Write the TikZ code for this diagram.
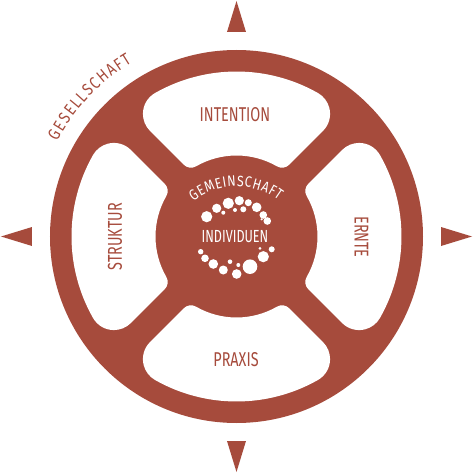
\documentclass[tikz,border=0pt]{standalone}
\usepackage{fontspec}
\setmainfont{Fira Sans}[FakeStretch=0.72]
\newfontfamily\arcfont{Fira Sans}[FakeStretch=0.82]
\usetikzlibrary{decorations.text}
\definecolor{wheel}{RGB}{166,75,60}
\tikzstyle{none}=[]
\tikzstyle{label}=[text=wheel, inner sep=0pt, font=\fontsize{20}{20}\selectfont]
\tikzstyle{hublabel}=[text=white, inner sep=0pt, font=\fontsize{17.5}{17.5}\selectfont]
\tikzstyle{dot}=[fill=white]

\begin{document}
\begin{tikzpicture}[x=1pt, y=1pt]
        \useasboundingbox (-236.5,-237.5) rectangle (237.5,236.5);
        \fill [wheel] (0,0) circle (186.5);
        \foreach \a in {0,90,180,270} {
                \fill [white, rotate=\a] (60.43:165) arc [start angle=60.43, end angle=119.57, radius=165]
                        arc [start angle=119.57, end angle=225, radius=24]
                        -- (-52.61,71.71)
                        arc [start angle=225, end angle=300.03, radius=10]
                        arc [start angle=120.03, end angle=59.97, radius=81]
                        arc [start angle=239.97, end angle=315, radius=10]
                        -- (86.56,105.66)
                        arc [start angle=-45, end angle=60.43, radius=24]
                        -- cycle;
                \fill [wheel, rotate=\a] (-9.5,204.5) -- (0,235.5) -- (9.5,204.5) -- cycle;
        }
        \foreach \x/\y/\r in {-29.8/19.8/5.6, -19.8/28.2/4.6, -8.2/33.2/5.6, 2.8/35.8/4.6, 11.8/33.8/3.5,
                20.2/29.2/4.8, 26.8/21.5/3.8, 30.8/15.5/3.8, -13.2/23.8/2, -1.5/26.5/2,
                6.8/27.2/3, 25.2/17.2/1.2, -35.8/-15.2/2.7, -31.5/-21.8/3.8, -23.2/-27.5/4.8,
                -13.2/-33.5/4.5, 0.2/-37.5/4.8, 13.5/-30.2/7.3, 26.8/-20.2/5.6, 35.2/-12.8/3,
                -6.5/-25.2/2.3, 1.8/-28.5/2, 23.5/-11.8/1.5}
                \fill [dot] (\x,\y) circle (\r);
        \node [style=label] (intention) at (-1.5,122) {INTENTION};
        \node [style=label, rotate=90] (struktur) at (-121.5,0) {STRUKTUR};
        \node [style=label, rotate=-90] (ernte) at (125,-0.5) {ERNTE};
        \node [style=label] (praxis) at (-0.5,-123.5) {PRAXIS};
        \node [style=hublabel] (individuen) at (-1.5,-0.5) {INDIVIDUEN};
        \path [decorate, decoration={text along path, text format delimiters={|}{|},
                text={|\arcfont\fontsize{17}{17}\selectfont\color{wheel}|GESELLSCHAFT}, text align={fit to path}}]
                (152:203) arc [start angle=152, end angle=121, radius=203];
        \path [shift={(0,-20)}, decorate, decoration={text along path, text format delimiters={|}{|},
                text={|\arcfont\fontsize{15}{15}\selectfont\color{white}|GEMEINSCHAFT}, text align={fit to path}}]
                (128:70) arc [start angle=128, end angle=53, radius=70];
\end{tikzpicture}
\end{document}
